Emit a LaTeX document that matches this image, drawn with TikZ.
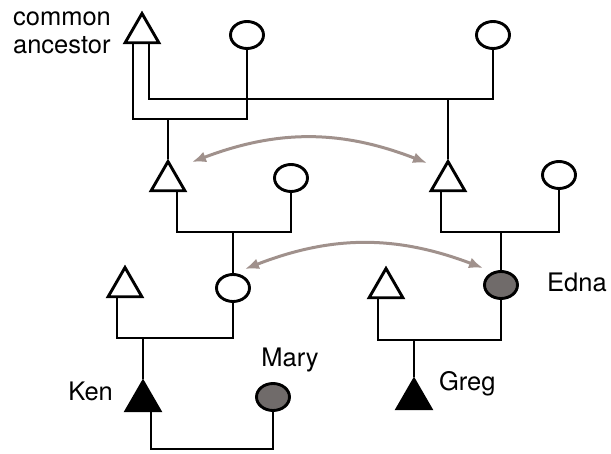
\documentclass[tikz,border=0pt]{standalone}
\usepackage{fontspec}
\setmainfont{TeX Gyre Heros}
\usetikzlibrary{arrows.meta, positioning, shapes.geometric}
\definecolor{kincol}{RGB}{160,145,140}
\definecolor{carrier}{RGB}{112,107,106}

\begin{document}
\begin{tikzpicture}[
  x=1pt, y=-1pt,
  male/.style={draw, regular polygon, regular polygon sides=3, minimum size=39pt, inner sep=0pt, line width=2.9pt, fill=white},
  female/.style={draw, ellipse, minimum width=33pt, minimum height=27pt, inner sep=0pt, line width=2.9pt, fill=white},
  affected/.style={fill=carrier},
  link/.style={line width=2.9pt},
  kin/.style={{Latex[length=14pt,width=11pt]}-{Latex[length=14pt,width=11pt]}, line width=3pt, draw=kincol},
  lbl/.style={font=\fontsize{25.5}{28}\selectfont, inner sep=0pt},
  node distance=14pt
]
\useasboundingbox (0,0) rectangle (611,454);

% people
\node[male] (anc) at (142,33) {};
\node[female] (w1) at (247,35) {};
\node[female] (w2) at (493,35) {};
\node[male] (t2) at (168,181) {};
\node[female] (w3) at (291,178) {};
\node[male] (t3) at (448,181) {};
\node[female] (w4) at (559,175) {};
\node[male] (t4) at (125,287) {};
\node[female] (c5) at (233,288) {};
\node[male] (t5) at (386,288) {};
\node[female, affected] (edna) at (501,285) {};
\node[male, fill=black] (ken) at (143,401) {};
\node[female, affected] (mary) at (273,397) {};
\node[male, fill=black] (greg) at (414,399) {};

% marriage bars
\coordinate (m1) at (168,119);
\coordinate (m2) at (448,99);
\coordinate (m3) at (233,232);
\coordinate (m4) at (501,232);
\coordinate (m5) at (143,338);
\coordinate (m6) at (414,340);
\coordinate (m7) at (213,449);

\draw[link] ([xshift=-9pt]anc.south) |- (m1) -| (w1.south);
\draw[link] ([xshift=7pt]anc.south) |- (m2) -| (w2.south);
\draw[link] ([xshift=9pt]t2.south) |- (m3) -| (w3.south);
\draw[link] ([xshift=-7pt]t3.south) |- (m4) -| (w4.south);
\draw[link] ([xshift=-8pt]t4.south) |- (m5) -| (c5.south);
\draw[link] ([xshift=-8pt]t5.south) |- (m6) -| (edna.south);
\draw[link] ([xshift=8pt]ken.south) |- (m7) -| (mary.south);

\draw[link] (m1) -- (t2);
\draw[link] (m2) -- (t3);
\draw[link] (m3) -- (c5);
\draw[link] (m4) -- (edna);
\draw[link] (m5) -- (ken);
\draw[link] (m6) -- (greg);

% cousins
\draw[kin] ([shift={(24,-19)}]t2.center) to[bend left=21] ([shift={(-21,-18)}]t3.center);
\draw[kin] ([shift={(12,-19)}]c5.center) to[bend left=21] ([shift={(-18,-17)}]edna.center);

\node[lbl, align=left, left=18pt of anc] (ancl) {common\\ancestor};
\node[lbl, left=17pt of ken, yshift=10pt] (kenl) {Ken};
\node[lbl, above=10pt of mary, xshift=17pt] (maryl) {Mary};
\node[lbl, right=12pt of greg, yshift=15pt] (gregl) {Greg};
\node[lbl, right=28pt of edna, yshift=3pt] (ednal) {Edna};
\end{tikzpicture}
\end{document}
